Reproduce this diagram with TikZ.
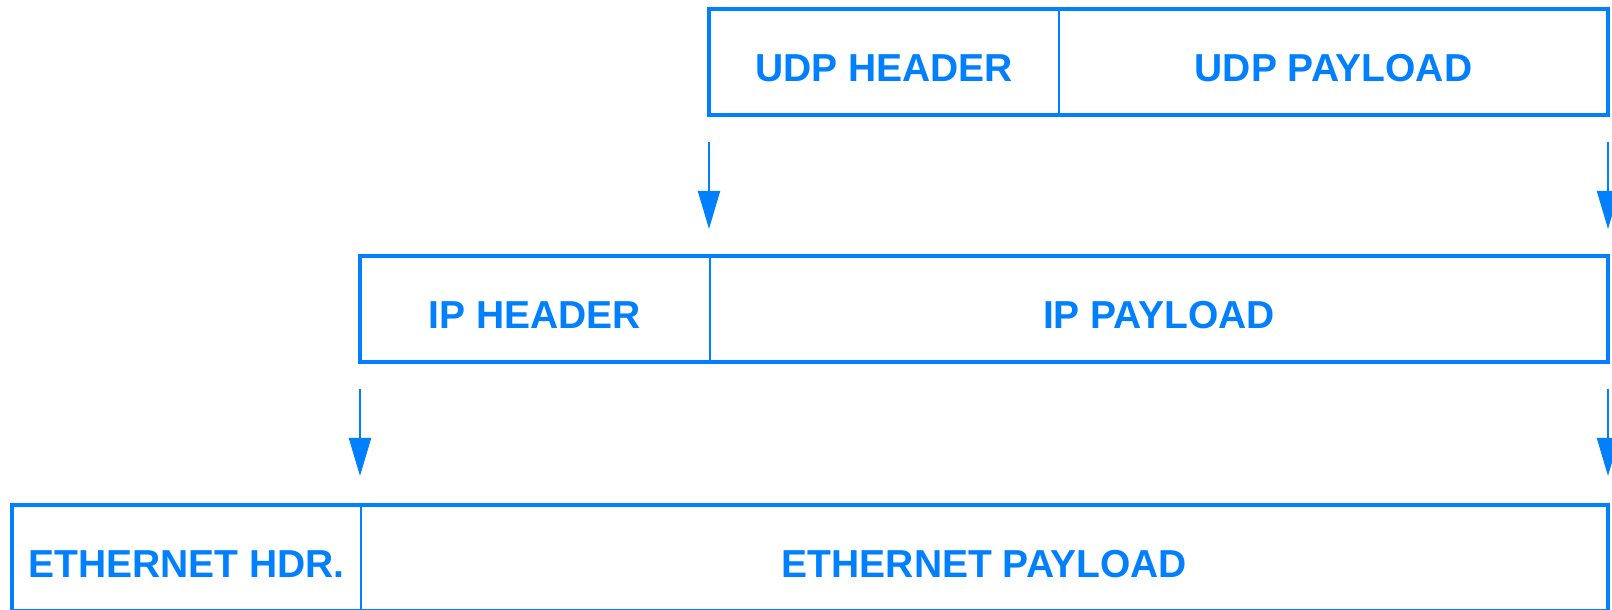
\documentclass[tikz,border=0pt]{standalone}
\usepackage{fontspec}
\setmainfont{Liberation Sans}
\usetikzlibrary{arrows.meta}
\definecolor{pktblue}{RGB}{0,128,255}
\tikzset{
  cell/.style={anchor=north west, minimum height=106pt, inner sep=0pt, outer sep=0pt,
    text=pktblue, font=\fontsize{39}{44}\selectfont\bfseries, text height=40pt, text depth=0pt},
  frame/.style={draw=pktblue, line width=4pt, line join=miter},
  divider/.style={draw=pktblue, line width=2pt},
  flow/.style={draw=pktblue, line width=2pt, -{Triangle[length=38pt,width=22pt]}}
}
\begin{document}
\begin{tikzpicture}[x=1pt,y=1pt]
\useasboundingbox (0,0) rectangle (1612,610);
% UDP row
\node[cell, minimum width=350pt] (udph) at (709,601) {UDP HEADER};
\node[cell, minimum width=549pt] (udpp) at (1059,601) {UDP PAYLOAD};
% IP row
\node[cell, minimum width=350pt] (iph) at (360,354) {IP HEADER};
\node[cell, minimum width=898pt] (ipp) at (710,354) {IP PAYLOAD};
% Ethernet row
\node[cell, minimum width=349pt] (ethh) at (12,105) {ETHERNET HDR.};
\node[cell, minimum width=1247pt] (ethp) at (361,105) {ETHERNET PAYLOAD};
% frames
\draw[frame] (udph.north west) rectangle (udpp.south east);
\draw[divider] (udph.north east) -- (udph.south east);
\draw[frame] (iph.north west) rectangle (ipp.south east);
\draw[divider] (iph.north east) -- (iph.south east);
\draw[frame] (ethh.north west) rectangle (ethp.south east);
\draw[divider] (ethh.north east) -- (ethh.south east);
% arrows
\coordinate (a1s) at ([yshift=-27pt]udph.south west);
\coordinate (a1e) at ([yshift=27pt]iph.north east);
\coordinate (a2s) at ([yshift=-27pt]udpp.south east);
\coordinate (a2e) at ([yshift=27pt]ipp.north east);
\coordinate (a3s) at ([yshift=-27pt]iph.south west);
\coordinate (a3e) at ([yshift=29pt]ethh.north east);
\coordinate (a4s) at ([yshift=-27pt]ipp.south east);
\coordinate (a4e) at ([yshift=29pt]ethp.north east);
\draw[flow] (a1s) -- (a1s |- a1e);
\draw[flow] (a2s) -- (a2e);
\draw[flow] (a3s) -- (a3s |- a3e);
\draw[flow] (a4s) -- (a4e);
\end{tikzpicture}
\end{document}
